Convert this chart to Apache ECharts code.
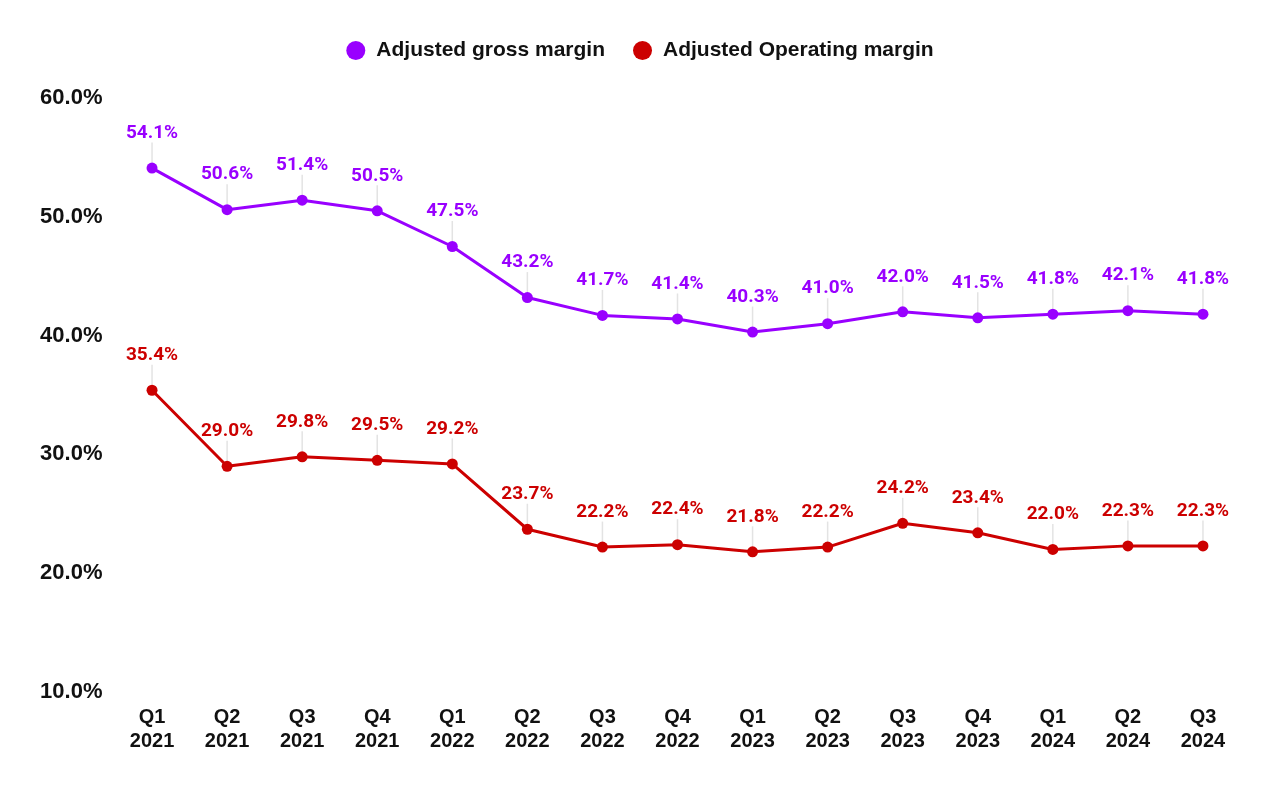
<!DOCTYPE html>
<html><head><meta charset="utf-8">
<script src="https://cdn.jsdelivr.net/npm/echarts@6/dist/echarts.min.js"></script>
<style>html,body{margin:0;padding:0;background:#fff}#c{width:1280px;height:791px}</style>
</head><body><div id="c"></div>
<script>
const categories = ['Q1\n2021','Q2\n2021','Q3\n2021','Q4\n2021','Q1\n2022','Q2\n2022','Q3\n2022','Q4\n2022','Q1\n2023','Q2\n2023','Q3\n2023','Q4\n2023','Q1\n2024','Q2\n2024','Q3\n2024'];
const grossMargin = [54.1, 50.6, 51.4, 50.5, 47.5, 43.2, 41.7, 41.4, 40.3, 41.0, 42.0, 41.5, 41.8, 42.1, 41.8];
const operatingMargin = [35.4, 29.0, 29.8, 29.5, 29.2, 23.7, 22.2, 22.4, 21.8, 22.2, 24.2, 23.4, 22.0, 22.3, 22.3];
const yTicks = [10, 20, 30, 40, 50, 60];

const chart = echarts.init(document.getElementById('c'));
function mkSeries(name, data, color) {
  return {
    name, type: 'line', data,
    symbol: 'circle', symbolSize: 11,
    itemStyle: { color },
    lineStyle: { color, width: 3 },
    label: {
      show: true, position: 'top', distance: 4,
      color, fontFamily: 'Roboto', fontWeight: 'bold', fontSize: 19,
      formatter: p => p.value.toFixed(1) + '%'
    },
    labelLayout: { dy: -16 },
    labelLine: { show: true, lineStyle: { color: '#e3e3e3', width: 1.5 } },
    emphasis: { disabled: true }
  };
}
chart.setOption({
  animation: false,
  legend: {
    top: 35, left: 'center', itemGap: 28,
    icon: 'circle', itemWidth: 19, itemHeight: 19,
    textStyle: { fontFamily: 'Liberation Sans', fontWeight: 'bold', fontSize: 21, color: '#111', padding: [0, 0, 0, 6] },
    data: ['Adjusted gross margin', 'Adjusted Operating margin']
  },
  grid: { left: 114.5, right: 39.5, top: 98, bottom: 99 },
  xAxis: {
    type: 'category', data: categories, boundaryGap: true,
    axisLine: { show: false }, axisTick: { show: false },
    axisLabel: { fontFamily: 'Liberation Sans', fontWeight: 'bold', fontSize: 20, color: '#111', lineHeight: 24, margin: 13 }
  },
  yAxis: {
    type: 'value', min: yTicks[0], max: yTicks[yTicks.length - 1], interval: 10,
    splitLine: { show: false }, axisLine: { show: false }, axisTick: { show: false },
    axisLabel: { fontFamily: 'Liberation Sans', fontWeight: 'bold', fontSize: 22, color: '#111', margin: 12, formatter: v => v.toFixed(1) + '%' }
  },
  series: [
    mkSeries('Adjusted gross margin', grossMargin, '#9900ff'),
    mkSeries('Adjusted Operating margin', operatingMargin, '#cc0000')
  ]
});
</script></body></html>
